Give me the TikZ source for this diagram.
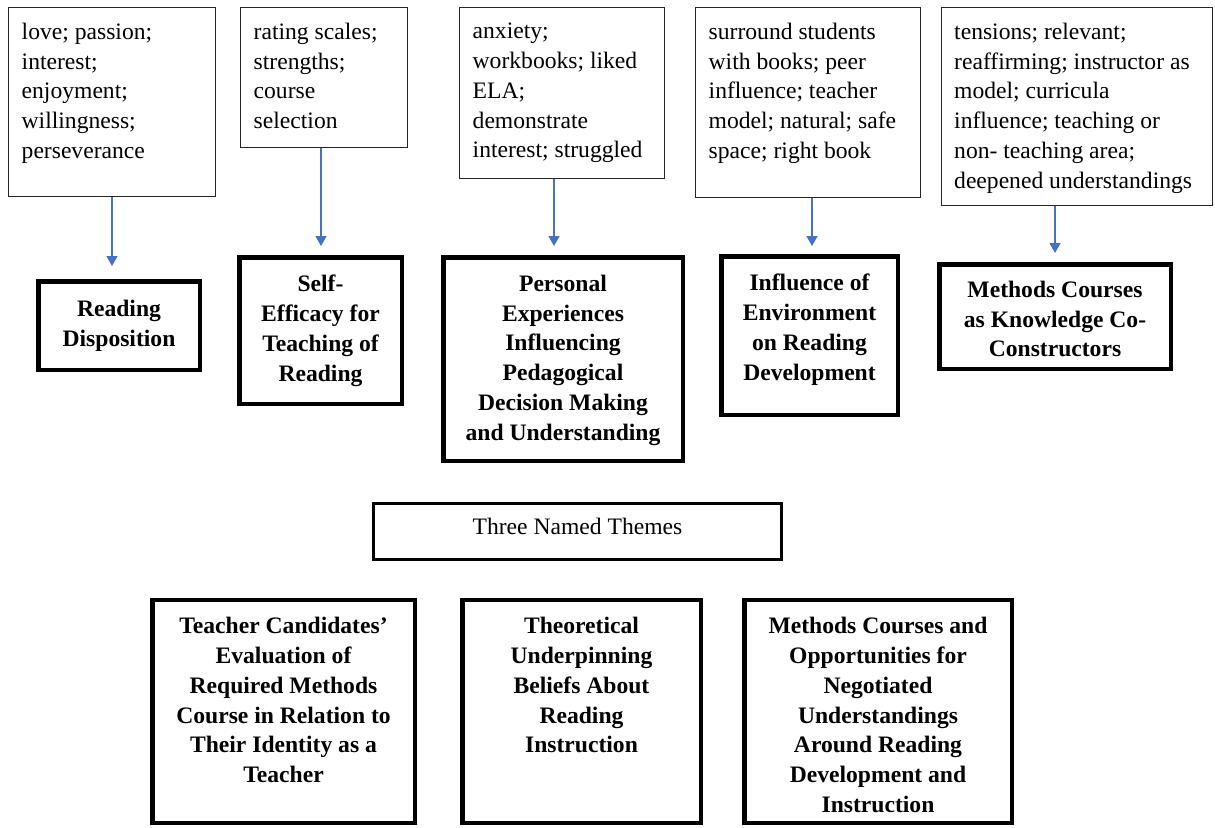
\documentclass[tikz,border=0pt]{standalone}
\usepackage{fontspec}
\setmainfont{Liberation Serif}
\usetikzlibrary{arrows.meta}
\definecolor{linkblue}{HTML}{4472C4}
\begin{document}
\begin{tikzpicture}[x=1pt,y=-1pt,
  every node/.style={inner sep=0pt},
  txt/.style={font=\fontsize{23.6}{29.8}\selectfont},
  codebox/.style={draw=black!85, line width=1pt, rectangle},
  themebox/.style={draw=black, line width=4.5pt, rectangle},
  namedbox/.style={draw=black, line width=3pt, rectangle},
  % the first line starts with a strut, so every text block has the same top
  codes/.style={txt, align=left, anchor=north west, execute at begin node=\strut},
  themetext/.style={font=\fontsize{23.6}{29.8}\selectfont\bfseries, align=center,
    anchor=north, execute at begin node=\strut},
  conn/.style={draw=linkblue, line width=1.3pt, -{Triangle[width=11pt,length=10pt]}}
]
\useasboundingbox (0,0) rectangle (1215,827);

% code boxes along the top
\node[codebox, minimum width=207pt, minimum height=189pt] (b1) at (111.5,101.5) {};
\node[codebox, minimum width=167pt, minimum height=140pt] (b2) at (323.5,77) {};
\node[codebox, minimum width=205pt, minimum height=171pt] (b3) at (561.5,92.5) {};
\node[codebox, minimum width=225pt, minimum height=190pt] (b4) at (807.5,102) {};
\node[codebox, minimum width=271pt, minimum height=198pt] (b5) at (1077,106) {};

\node[codes] (c1) at ([xshift=14pt,yshift=-16.3pt]b1.north west)
  {love; passion;\\interest;\\enjoyment;\\willingness;\\perseverance};
\node[codes] (c2) at ([xshift=14pt,yshift=-16.3pt]b2.north west)
  {rating scales;\\strengths;\\course\\selection};
\node[codes] (c3) at ([xshift=14pt,yshift=-16.3pt]b3.north west)
  {anxiety;\\workbooks; liked\\ELA;\\demonstrate\\interest; struggled};
\node[codes] (c4) at ([xshift=14pt,yshift=-16.3pt]b4.north west)
  {surround students\\with books; peer\\influence; teacher\\model; natural; safe\\space; right book};
\node[codes] (c5) at ([xshift=13pt,yshift=-16.3pt]b5.north west)
  {tensions; relevant;\\reaffirming; instructor as\\model; curricula\\influence; teaching or\\non- teaching area;\\deepened understandings};

% theme boxes
\node[themebox, minimum width=161.5pt, minimum height=88.5pt] (h1) at (119,325.5) {};
\node[themebox, minimum width=162.5pt, minimum height=146.5pt] (h2) at (320.5,330.5) {};
\node[themebox, minimum width=239.5pt, minimum height=203.5pt] (h3) at (563,359) {};
\node[themebox, minimum width=176.5pt, minimum height=158.5pt] (h4) at (809.5,335.5) {};
\node[themebox, minimum width=231.5pt, minimum height=104.5pt] (h5) at (1055,316.5) {};

\node[themetext] (l1) at ([yshift=-20.8pt]h1.north) {Reading\\Disposition};
\node[themetext] (l2) at ([yshift=-19.8pt]h2.north) {Self-\\Efficacy for\\Teaching of\\Reading};
\node[themetext] (l3) at ([yshift=-19.8pt]h3.north) {Personal\\Experiences\\Influencing\\Pedagogical\\Decision Making\\and Understanding};
\node[themetext] (l4) at ([yshift=-20pt]h4.north) {Influence of\\Environment\\on Reading\\Development};
\node[themetext] (l5) at ([yshift=-18.8pt]h5.north) {Methods Courses\\as Knowledge Co-\\Constructors};

% arrows from codes to themes
\coordinate (x1) at (112,0);
\coordinate (x2) at (321,0);
\coordinate (x3) at (554,0);
\coordinate (x4) at (812,0);
\coordinate (x5) at (1055,0);
\draw[conn] (b1.south -| x1) -- ([yshift=13pt]h1.north -| x1);
\draw[conn] (b2.south -| x2) -- ([yshift=9pt]h2.north -| x2);
\draw[conn] (b3.south -| x3) -- ([yshift=9pt]h3.north -| x3);
\draw[conn] (b4.south -| x4) -- ([yshift=8pt]h4.north -| x4);
\draw[conn] (b5.south -| x5) -- ([yshift=9pt]h5.north -| x5);

% named themes
\node[namedbox, minimum width=408pt, minimum height=56pt] (tn) at (577.5,531.5) {};
\node[txt, anchor=base] (tl) at ([yshift=-32.5pt]tn.north) {Three Named Themes};

\node[themebox, minimum width=262.5pt, minimum height=222.75pt] (n1) at (283.5,711.6) {};
\node[themebox, minimum width=238.5pt, minimum height=222.75pt] (n2) at (581.5,711.6) {};
\node[themebox, minimum width=267.5pt, minimum height=222.75pt] (n3) at (878,711.6) {};

\node[themetext] (m1) at ([yshift=-19.1pt]n1.north) {Teacher Candidates’\\Evaluation of\\Required Methods\\Course in Relation to\\Their Identity as a\\Teacher};
\node[themetext] (m2) at ([yshift=-19.1pt]n2.north) {Theoretical\\Underpinning\\Beliefs About\\Reading\\Instruction};
\node[themetext] (m3) at ([yshift=-19.1pt]n3.north) {Methods Courses and\\Opportunities for\\Negotiated\\Understandings\\Around Reading\\Development and\\Instruction};
\end{tikzpicture}
\end{document}
